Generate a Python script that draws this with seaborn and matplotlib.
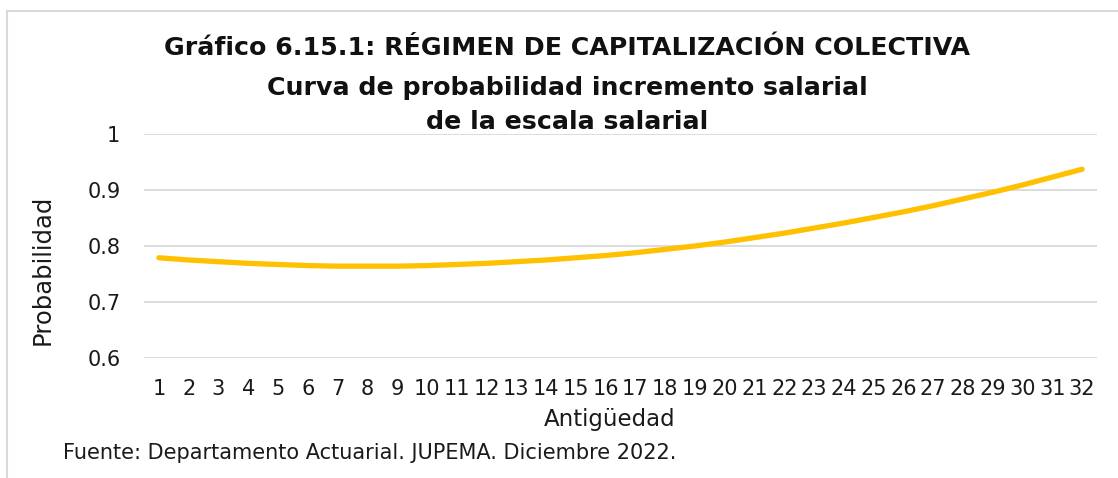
import matplotlib
matplotlib.use("Agg")
import matplotlib.pyplot as plt
import seaborn as sns
import pandas as pd
from matplotlib.lines import Line2D

antiguedad = list(range(1, 33))
probabilidad = [0.779, 0.775, 0.772, 0.769, 0.767, 0.765, 0.764, 0.764,
                0.764, 0.765, 0.767, 0.769, 0.772, 0.775, 0.779, 0.783,
                0.788, 0.794, 0.800, 0.807, 0.815, 0.823, 0.832, 0.841,
                0.851, 0.861, 0.872, 0.884, 0.896, 0.909, 0.923, 0.937]
y_ticks = [0.6, 0.7, 0.8, 0.9, 1.0]
y_labels = ["0.6", "0.7", "0.8", "0.9", "1"]
title_lines = ["Gráfico 6.15.1: RÉGIMEN DE CAPITALIZACIÓN COLECTIVA",
               "Curva de probabilidad incremento salarial",
               "de la escala salarial"]
source = "Fuente: Departamento Actuarial. JUPEMA. Diciembre 2022."

sns.set_theme(style="white")
plt.rcParams['font.family'] = ['DejaVu Sans']

df = pd.DataFrame({"pos": range(len(antiguedad)), "prob": probabilidad})

W, H = 1118, 478
fig = plt.figure(figsize=(W / 100, H / 100), dpi=100)
ax_l, ax_r, ax_t, ax_b = 144, 1097, 134, 358
ax = fig.add_axes([ax_l / W, 1 - ax_b / H, (ax_r - ax_l) / W, (ax_b - ax_t) / H])

sns.lineplot(data=df, x="pos", y="prob", ax=ax, color="#FFC000",
             linewidth=3.8, solid_capstyle="round")

ax.set_xlim(-0.5, len(antiguedad) - 0.5)
ax.set_ylim(0.6, 1.0)
ax.set_yticks(y_ticks)
ax.set_yticklabels(y_labels)
ax.set_xticks(range(len(antiguedad)))
ax.set_xticklabels([str(a) for a in antiguedad])
ax.tick_params(axis="y", length=0, pad=17, labelsize=15, labelcolor="#1a1a1a")
ax.tick_params(axis="x", length=0, pad=15, labelsize=15, labelcolor="#1a1a1a")
ax.grid(axis="y", color="#D9D9D9", linewidth=1.3)
ax.grid(axis="x", visible=False)
for s in ax.spines.values():
    s.set_visible(False)
ax.set_xlabel("Antigüedad", fontsize=16.5, color="#1a1a1a")
ax.set_ylabel("Probabilidad", fontsize=17.5, color="#1a1a1a")
aw, ah = ax_r - ax_l, ax_b - ax_t
ax.xaxis.set_label_coords((610 - ax_l) / aw, -(408 - ax_b) / ah)
ax.yaxis.set_label_coords((55 - ax_l) / aw, (ax_b - 270) / ah)

ys = [48, 88, 122]
for t, y in zip(title_lines, ys):
    fig.text(567 / W, 1 - y / H, t, ha="center", va="center",
             fontsize=18.2, fontweight="bold", color="#111111")

fig.text(63 / W, 1 - 453 / H, source, ha="left", va="center",
         fontsize=15, color="#1a1a1a")

fig.add_artist(Line2D([7 / W, 7 / W], [0, 1 - 11 / H], transform=fig.transFigure,
                      color="#D9D9D9", linewidth=1.5))
fig.add_artist(Line2D([7 / W, 1], [1 - 11 / H, 1 - 11 / H], transform=fig.transFigure,
                      color="#D9D9D9", linewidth=1.5))

fig.savefig("out.png", dpi=100, facecolor="white")
